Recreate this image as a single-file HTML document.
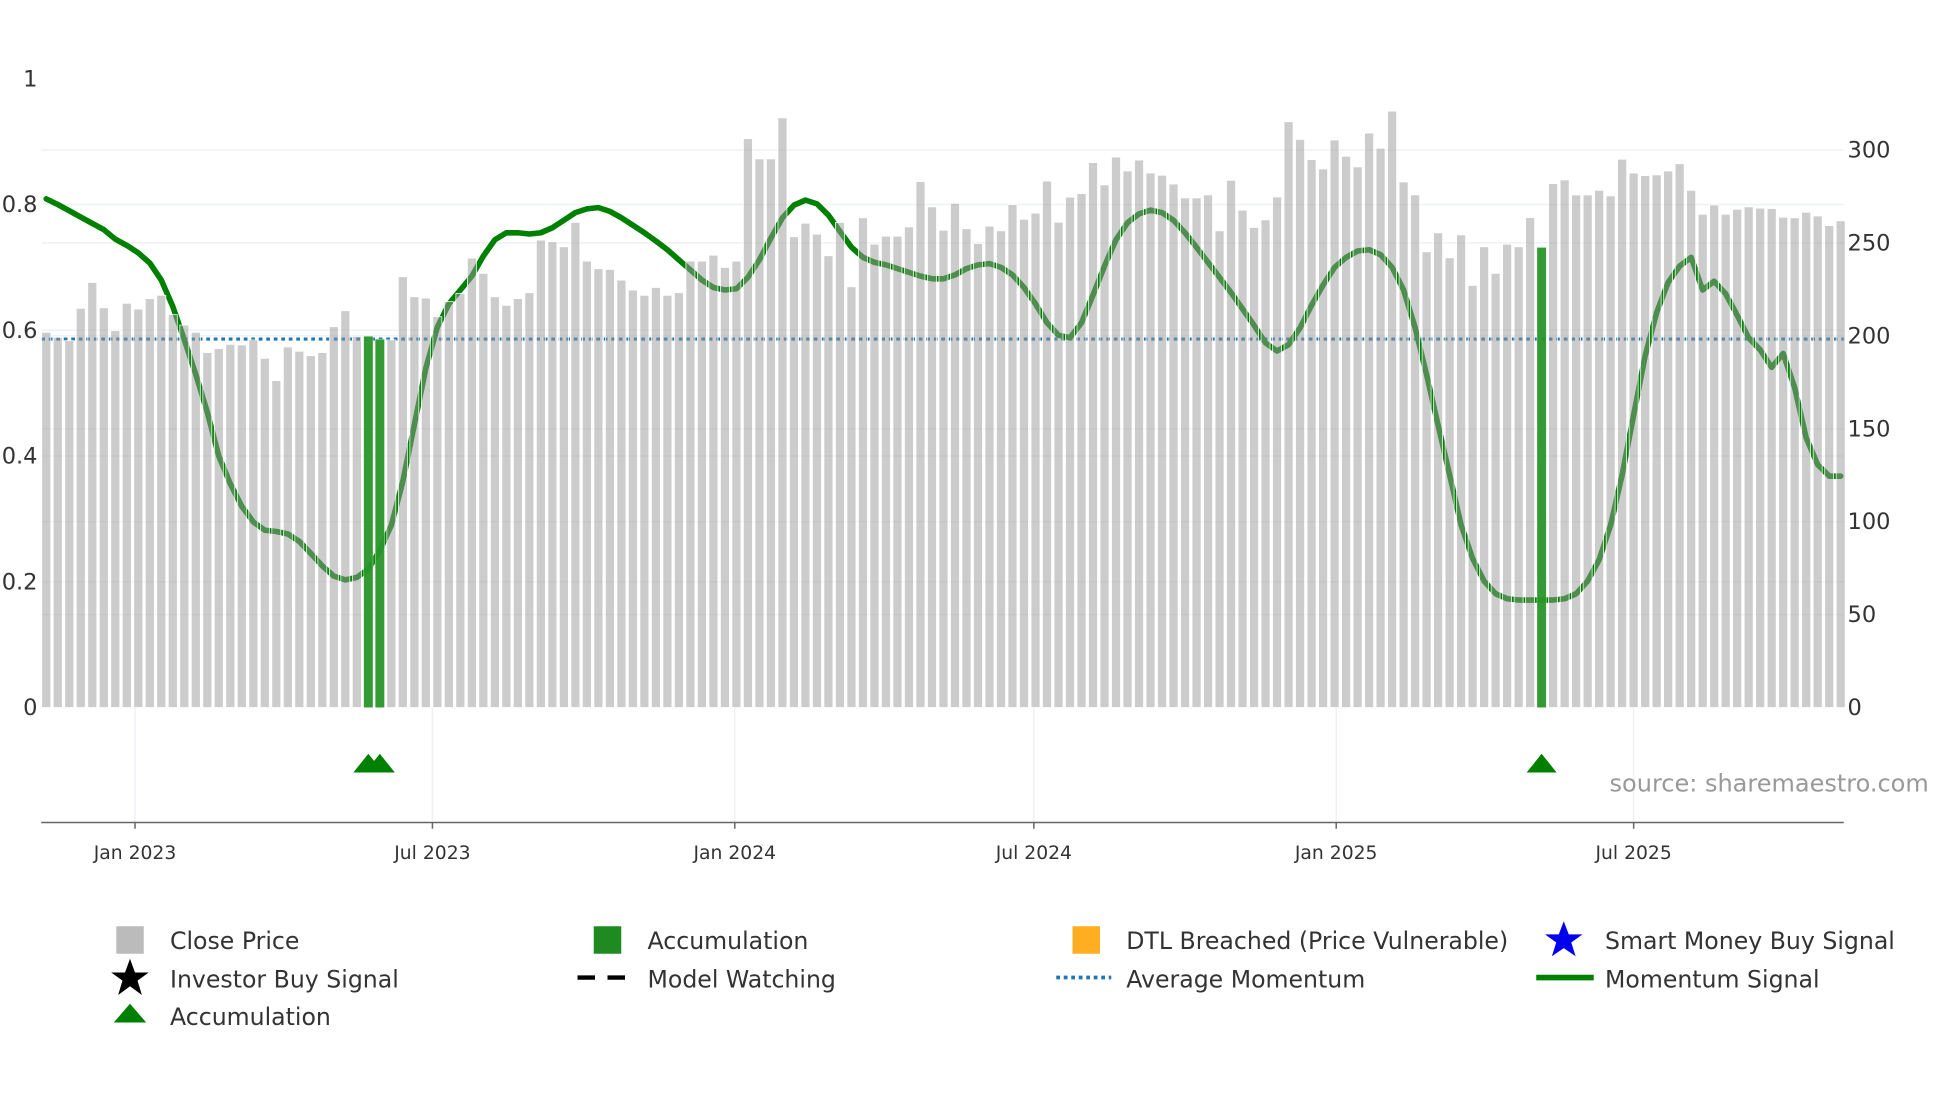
<!DOCTYPE html>
<html><head><meta charset="utf-8"><style>
html,body{margin:0;padding:0;background:#fff;}
svg{display:block;font-family:"DejaVu Sans","Liberation Sans",sans-serif;}
</style></head><body>
<svg id="chart" width="1960" height="1102" viewBox="0 0 1568 881.6" xmlns="http://www.w3.org/2000/svg">
<g id="grid"></g>
<g id="avg"></g>
<g id="mom"></g>
<g id="bars"></g>
<g id="acc"></g>
<g id="tri"></g>
<g id="axes"></g>
<text x="1543" y="633" text-anchor="end" font-size="19.2" fill="#999">source: sharemaestro.com</text>
<g id="legend" font-size="18.9" fill="#333">
  <g><rect x="93" y="741" width="22" height="22" fill="#bbb"/><text x="136" y="759">Close Price</text></g>
  <g><rect x="475" y="741" width="22" height="22" fill="#1f8a1f"/><text x="518" y="759">Accumulation</text></g>
  <g><rect x="858" y="741" width="22" height="22" fill="#ffad21"/><text x="901" y="759">DTL Breached (Price Vulnerable)</text></g>
  <g><polygon points="1251,737 1255,747.5 1266,747.5 1257,754 1260.5,765 1251,758.5 1241.5,765 1245,754 1236,747.5 1247,747.5" fill="#0000ee"/><text x="1284" y="759">Smart Money Buy Signal</text></g>
  <g><polygon points="104,767 108,778 119,778 110,784.5 113.5,796 104,789 94.5,796 98,784.5 89,778 100,778" fill="#000"/><text x="136" y="790">Investor Buy Signal</text></g>
  <g><line x1="462" y1="782" x2="506" y2="782" stroke="#000" stroke-width="3.5" stroke-dasharray="14 10"/><text x="518" y="790">Model Watching</text></g>
  <g><line x1="845" y1="782" x2="889" y2="782" stroke="#1f77b4" stroke-width="3" stroke-dasharray="3 3"/><text x="901" y="790">Average Momentum</text></g>
  <g><line x1="1229" y1="782" x2="1275" y2="782" stroke="#008000" stroke-width="4.5"/><text x="1284" y="790">Momentum Signal</text></g>
  <g><polygon points="104,803 117,818 91,818" fill="#008000"/><text x="136" y="820">Accumulation</text></g>
</g>
</svg>
<script>
const startDate = "2022-11-08";
const prices = [201.9,199.2,197.4,214.8,228.7,215.1,202.8,217.5,214.4,220.0,221.8,211.4,205.8,201.9,191.0,193.1,195.4,195.1,197.8,187.9,175.9,194.0,191.7,189.3,191.0,204.9,213.5,199.7,199.7,198.1,197.8,231.8,221.0,220.3,210.3,218.4,222.8,241.8,233.6,221.0,216.4,220.0,223.2,251.5,250.6,247.9,261.0,240.2,236.1,235.7,230.0,224.6,221.8,226.0,221.8,223.2,240.2,240.2,243.4,236.8,240.2,306.1,295.2,295.2,317.3,253.3,260.6,254.7,243.1,261.0,226.4,263.5,249.3,253.6,253.6,258.6,283.0,269.4,256.8,271.3,257.6,249.7,259.0,256.5,270.6,262.7,266.0,283.3,261.1,274.6,276.5,293.2,281.2,296.2,288.7,294.6,287.6,286.4,281.7,274.2,274.2,275.8,256.5,283.7,267.6,258.3,262.4,274.7,315.2,305.7,294.8,289.8,305.4,296.6,290.9,309.1,300.9,320.9,282.8,275.8,245.2,255.4,242.0,254.3,227.1,247.9,233.6,249.3,247.9,263.6,247.5,281.9,283.9,275.8,275.8,278.3,275.3,295.0,287.6,286.2,286.6,288.7,292.6,278.3,265.4,270.4,265.4,268.1,269.4,268.7,268.5,263.8,263.5,266.5,264.5,259.3,261.9];
const momentum = [0.809,0.80,0.79,0.78,0.77,0.76,0.745,0.735,0.723,0.707,0.680,0.638,0.585,0.53,0.47,0.40,0.356,0.32,0.295,0.282,0.28,0.276,0.264,0.245,0.225,0.209,0.203,0.207,0.22,0.25,0.29,0.36,0.45,0.54,0.605,0.642,0.664,0.686,0.718,0.744,0.755,0.755,0.753,0.755,0.763,0.775,0.787,0.793,0.795,0.789,0.779,0.767,0.755,0.742,0.728,0.712,0.696,0.68,0.668,0.664,0.666,0.684,0.712,0.747,0.779,0.799,0.807,0.801,0.783,0.757,0.732,0.716,0.708,0.704,0.698,0.692,0.686,0.682,0.682,0.688,0.698,0.704,0.706,0.70,0.688,0.668,0.642,0.612,0.592,0.588,0.612,0.656,0.702,0.744,0.771,0.785,0.791,0.787,0.775,0.755,0.732,0.708,0.684,0.660,0.634,0.608,0.58,0.567,0.577,0.604,0.64,0.672,0.70,0.716,0.726,0.728,0.72,0.70,0.664,0.604,0.529,0.449,0.37,0.29,0.237,0.201,0.181,0.173,0.171,0.171,0.171,0.171,0.173,0.181,0.201,0.235,0.29,0.37,0.465,0.559,0.628,0.676,0.702,0.716,0.664,0.678,0.658,0.624,0.588,0.569,0.541,0.563,0.509,0.429,0.386,0.368,0.368];
const accumulationIdx = [28,29,130];
const averageMomentum = 0.586;
const leftTicks = [0,0.2,0.4,0.6,0.8,1];
const leftTickLabels = ["0","0.2","0.4","0.6","0.8","1"];
const rightTicks = [0,50,100,150,200,250,300];
const xTickDates = ["2023-01-01","2023-07-01","2024-01-01","2024-07-01","2025-01-01","2025-07-01"];
const xTickLabels = ["Jan 2023","Jul 2023","Jan 2024","Jul 2024","Jan 2025","Jul 2025"];

const NS="http://www.w3.org/2000/svg";
const X0=33,X1=1475,Y0=566;
const day0=Date.parse("2023-01-01");
function xDate(d){return 108+(Date.parse(d)-day0)/86400000*1.3146;}
function xBar(i){return xDate(startDate)+i*7*1.3146;}
function yPrice(p){return Y0-p*446/300;}
function yMom(v){return Y0-v*503;}
function mk(tag,attrs,parent){const e=document.createElementNS(NS,tag);for(const k in attrs)e.setAttribute(k,attrs[k]);parent.appendChild(e);return e;}

const grid=document.getElementById('grid');
rightTicks.forEach(t=>{if(t>0){const l=mk('line',{x1:X0,x2:X1,y1:yPrice(t),y2:yPrice(t),stroke:'#eef1f5','stroke-width':1.2},grid);

}});
leftTicks.forEach(t=>{if(t>0&&t<1){const l=mk('line',{x1:X0,x2:X1,y1:yMom(t),y2:yMom(t),stroke:'#eef1f5','stroke-width':1.2},grid);

}});
xTickDates.forEach(d=>{const l=mk('line',{x1:xDate(d),x2:xDate(d),y1:Y0,y2:658,stroke:'#eef1f5','stroke-width':1.2},grid);

});

const avg=mk('line',{x1:X0,x2:X1,y1:yMom(averageMomentum),y2:yMom(averageMomentum),stroke:'#1f77b4','stroke-width':2.5,'stroke-dasharray':'3 3'},document.getElementById('avg'));



const pts=momentum.map((v,i)=>xBar(i).toFixed(1)+','+yMom(v).toFixed(1)).join(' ');
const ml=mk('polyline',{points:pts,fill:'none',stroke:'#008000','stroke-width':4.5,'stroke-linejoin':'round','stroke-linecap':'round'},document.getElementById('mom'));



const bars=document.getElementById('bars');
prices.forEach((p,i)=>{const b=mk('rect',{x:xBar(i)-3.6,y:yPrice(p),width:7.2,height:Y0-yPrice(p),fill:'#999','fill-opacity':0.5,stroke:'#fff','stroke-width':0.6},bars);

});

const acc=document.getElementById('acc'),tri=document.getElementById('tri');
accumulationIdx.forEach(i=>{const b=mk('rect',{x:xBar(i)-3.6,y:yPrice(prices[i]),width:7.2,height:Y0-yPrice(prices[i]),fill:'#239623','fill-opacity':0.9},acc);


const x=xBar(i);const t=mk('polygon',{points:`${x},603 ${x+12},618 ${x-12},618`,fill:'#008000'},tri);

});

const axes=document.getElementById('axes');
const xa=mk('line',{x1:X0,x2:X1,y1:658,y2:658,stroke:'#666','stroke-width':1.2},axes);


xTickDates.forEach((d,k)=>{const x=xDate(d);
const tk=mk('line',{x1:x,x2:x,y1:658,y2:663,stroke:'#666','stroke-width':1.2},axes);


const t=mk('text',{x:x,y:687,'text-anchor':'middle','font-size':15,fill:'#333'},axes);t.textContent=xTickLabels[k];

});
leftTicks.forEach((v,k)=>{const t=mk('text',{x:30,y:yMom(v)+6,'text-anchor':'end','font-size':18,fill:'#333'},axes);t.textContent=leftTickLabels[k];

});
rightTicks.forEach(v=>{const t=mk('text',{x:1478,y:yPrice(v)+6,'font-size':18,fill:'#333'},axes);t.textContent=String(v);

});
</script>
</body></html>
